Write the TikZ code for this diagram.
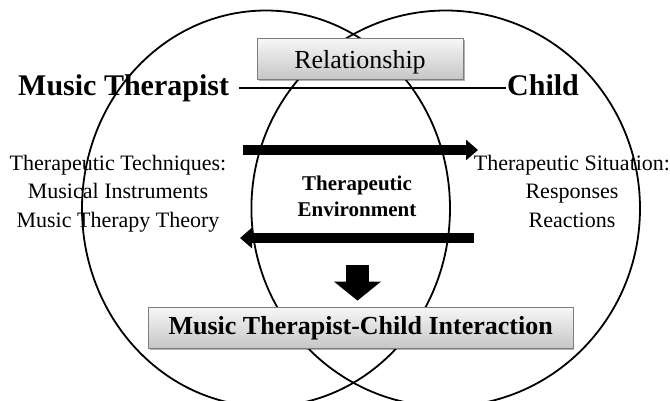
\documentclass[tikz,border=0pt]{standalone}
\usepackage{fontspec}
\setmainfont{Liberation Serif}
\usetikzlibrary{arrows.meta,shadows}
\definecolor{boxtop}{RGB}{247,247,247}
\definecolor{boxbot}{RGB}{198,198,198}
\definecolor{boxline}{RGB}{125,125,125}
\begin{document}
\begin{tikzpicture}[x=1pt,y=-1pt,
  venn/.style={draw=black, line width=1.8pt},
  gradbox/.style={draw=boxline, line width=0.8pt, top color=boxtop, bottom color=boxbot,
    drop shadow={shadow xshift=1.5pt, shadow yshift=-1.5pt, fill=black, opacity=0.3},
    inner sep=0pt},
  party/.style={font=\fontsize{30}{36}\selectfont\bfseries, inner sep=0pt},
  sidetext/.style={font=\fontsize{22}{28.5}\selectfont, align=center, inner sep=0pt, anchor=north},
  flow/.style={line width=9.5pt, -{Triangle[length=12pt,width=20pt]}},
]
\useasboundingbox (0,0) rectangle (670,400);
\clip (0,0) rectangle (670,400);
\fill[white] (0,0) rectangle (670,400);

% the two overlapping circles
\draw[venn] (266,208.5) ellipse [x radius=184pt, y radius=198pt];
\draw[venn] (445.7,208.5) ellipse [x radius=194.3pt, y radius=198pt];

% the two parties and the relationship between them
\node[party, anchor=base west] (mt) at (18,95) {Music Therapist};
\node[party, anchor=base west] (ch) at (507,95) {Child};
\draw[line width=2.7pt, shorten <=10pt, shorten >=1pt] (mt.east |- 0,88) -- (ch.west |- 0,88);
\node[gradbox, minimum width=206pt, minimum height=41pt,
      font=\fontsize{26}{30}\selectfont, text height=21pt, text depth=2pt]
      (rel) at (360,58.8) {Relationship};

% side descriptions
\node[sidetext] (tech) at (118,155) {Therapeutic Techniques:\\Musical Instruments\\Music Therapy Theory};
\node[sidetext] (sit) at (572,155) {Therapeutic Situation:\\Responses\\Reactions};

% shared environment
\node[font=\fontsize{21}{26}\selectfont\bfseries, align=center, inner sep=0pt, anchor=north]
      (env) at (357,175.7) {Therapeutic\\Environment};

% exchange arrows
\coordinate (toChildS) at (243,150);
\coordinate (toChildE) at (478,150);
\draw[flow] (toChildS) -- (toChildE);
\coordinate (toTherS) at (474,238);
\coordinate (toTherE) at (240,238);
\draw[flow] (toTherS) -- (toTherE);

% outcome
\node[gradbox, minimum width=424.5pt, minimum height=41pt,
      font=\fontsize{26}{30}\selectfont\bfseries, text height=18.5pt, text depth=4.5pt]
      (mci) at (360.7,327.5) {Music Therapist-Child Interaction};
\coordinate (downS) at (357.5,265);
\draw[line width=23pt, -{Triangle[length=19pt,width=46pt]}, shorten >=6pt]
      (downS) -- (mci.north -| downS);
\end{tikzpicture}
\end{document}
